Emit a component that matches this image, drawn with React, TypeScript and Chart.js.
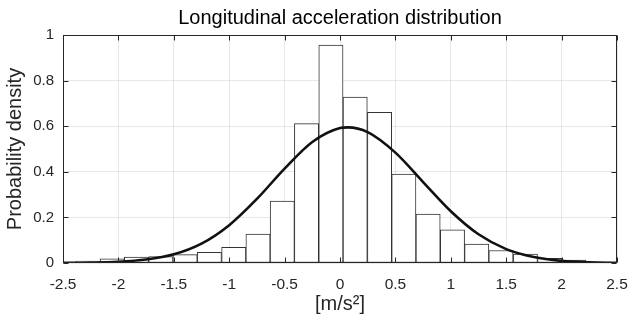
import React, { useEffect, useRef } from "react";
import { Chart, registerables } from "chart.js";

Chart.register(...registerables);

// Histogram bins (centres, bin width ≈ 0.219) and their probability densities
const binCenters = [
  -2.275, -2.056, -1.837, -1.617, -1.398, -1.179, -0.959, -0.740, -0.521, -0.302, -0.082,
  0.137, 0.357, 0.576, 0.795, 1.015, 1.234, 1.453, 1.673, 1.892, 2.111, 2.331,
];
const binDensity = [
  0.008, 0.018, 0.026, 0.028, 0.037, 0.047, 0.069, 0.127, 0.272, 0.611, 0.956,
  0.728, 0.661, 0.390, 0.215, 0.145, 0.083, 0.055, 0.039, 0.021, 0.013, 0.005,
];

// Fitted density curve
const curveX = [
  -2.5, -2.25, -2.0, -1.75, -1.5, -1.25, -1.0, -0.75, -0.5, -0.25, 0.0, 0.07,
  0.25, 0.5, 0.75, 1.0, 1.25, 1.5, 1.75, 2.0, 2.25, 2.5,
];
const curveY = [
  0.0004, 0.0015, 0.005, 0.015, 0.038, 0.085, 0.166, 0.281, 0.414, 0.531, 0.592, 0.595,
  0.574, 0.484, 0.355, 0.227, 0.126, 0.061, 0.026, 0.0094, 0.003, 0.0008,
];

const xTickValues = [-2.5, -2, -1.5, -1, -0.5, 0, 0.5, 1, 1.5, 2, 2.5];
const xTickLabels = ["-2.5", "-2", "-1.5", "-1", "-0.5", "0", "0.5", "1", "1.5", "2", "2.5"];
const yTickValues = [0, 0.2, 0.4, 0.6, 0.8, 1];
const yTickLabels = ["0", "0.2", "0.4", "0.6", "0.8", "1"];

const titleText = "Longitudinal acceleration distribution";
const xTitle = "[m/s²]";
const yTitle = "Probability density";

const FONT = "'Liberation Sans', Arial, Helvetica, sans-serif";
const AXIS_COLOR = "#262626";

const boxPlugin = {
  id: "matlabBox",
  afterDatasetsDraw(chart: any) {
    const { ctx, chartArea, scales } = chart;
    const { left, right, top, bottom } = chartArea;
    const L = Math.round(left) + 0.5;
    const R = Math.round(right) - 0.5;
    const T = Math.round(top) + 0.5;
    const B = Math.round(bottom) - 0.5;
    ctx.save();
    ctx.strokeStyle = AXIS_COLOR;
    ctx.lineWidth = 1;
    ctx.strokeRect(L, T, R - L, B - T);
    const tl = 5;
    ctx.beginPath();
    xTickValues.forEach((v) => {
      const px = Math.round(scales.x.getPixelForValue(v)) + 0.5;
      ctx.moveTo(px, B);
      ctx.lineTo(px, B - tl);
      ctx.moveTo(px, T);
      ctx.lineTo(px, T + tl);
    });
    yTickValues.forEach((v) => {
      const py = Math.round(scales.y.getPixelForValue(v)) + 0.5;
      ctx.moveTo(L, py);
      ctx.lineTo(L + tl, py);
      ctx.moveTo(R, py);
      ctx.lineTo(R - tl, py);
    });
    ctx.stroke();
    ctx.restore();
  },
};

export default function App() {
  const canvasRef = useRef<HTMLCanvasElement | null>(null);

  useEffect(() => {
    const canvas = canvasRef.current;
    if (!canvas) return;
    const chart = new Chart(canvas, {
      type: "bar",
      data: {
        datasets: [
          {
            type: "line",
            label: "fit",
            data: curveX.map((x, i) => ({ x, y: curveY[i] })),
            borderColor: "#111111",
            borderWidth: 2.6,
            pointRadius: 0,
            fill: false,
            cubicInterpolationMode: "monotone",
            order: 0,
          } as any,
          {
            type: "bar",
            label: "hist",
            data: binCenters.map((x, i) => ({ x, y: binDensity[i] })),
            backgroundColor: "#ffffff",
            borderColor: "#333333",
            borderWidth: 1,
            borderSkipped: false,
            barPercentage: 1,
            categoryPercentage: 1,
            order: 1,
          } as any,
        ],
      },
      options: {
        responsive: false,
        animation: false,
        events: [],
        layout: { padding: { left: 0, right: 11, top: 0, bottom: 0 } },
        plugins: {
          legend: { display: false },
          tooltip: { enabled: false },
          title: {
            display: true,
            text: titleText,
            color: "#000000",
            fullSize: false,
            font: { family: FONT, size: 20, weight: "normal", lineHeight: 1.2 },
            padding: { top: 6, bottom: 5 },
          },
        },
        scales: {
          x: {
            type: "linear",
            min: -2.5,
            max: 2.5,
            offset: false,
            afterBuildTicks: (scale: any) => {
              scale.ticks = xTickValues.map((value) => ({ value }));
            },
            afterFit: (scale: any) => {
              scale.height = 63;
              scale.paddingLeft = 0;
              scale.paddingRight = 0;
            },
            ticks: {
              callback: (_v: any, i: number) => xTickLabels[i],
              color: AXIS_COLOR,
              font: { family: FONT, size: 15.5 },
              padding: 12,
              maxRotation: 0,
              autoSkip: false,
            },
            grid: {
              color: "rgba(0,0,0,0.09)",
              drawTicks: false,
              offset: false,
            },
            border: { display: false },
            title: {
              display: true,
              text: xTitle,
              color: AXIS_COLOR,
              font: { family: FONT, size: 20, lineHeight: 1.2 },
              padding: { top: 10, bottom: 10 },
            },
          },
          y: {
            type: "linear",
            min: 0,
            max: 1,
            afterBuildTicks: (scale: any) => {
              scale.ticks = yTickValues.map((value) => ({ value }));
            },
            afterFit: (scale: any) => {
              scale.width = 63;
              scale.paddingTop = 0;
              scale.paddingBottom = 0;
            },
            ticks: {
              callback: (_v: any, i: number) => yTickLabels[i],
              color: AXIS_COLOR,
              font: { family: FONT, size: 15 },
              padding: 9,
            },
            grid: {
              color: "rgba(0,0,0,0.09)",
              drawTicks: false,
            },
            border: { display: false },
            title: {
              display: true,
              text: yTitle,
              color: AXIS_COLOR,
              font: { family: FONT, size: 20, lineHeight: 1.2 },
              padding: { top: 3, bottom: 3 },
            },
          },
        },
      },
      plugins: [boxPlugin],
    } as any);
    return () => chart.destroy();
  }, []);

  return (
    <div style={{ position: "absolute", left: 0, top: 0, width: 628, height: 326, background: "#ffffff" }}>
      <canvas ref={canvasRef} width={628} height={326} style={{ display: "block" }} />
    </div>
  );
}
